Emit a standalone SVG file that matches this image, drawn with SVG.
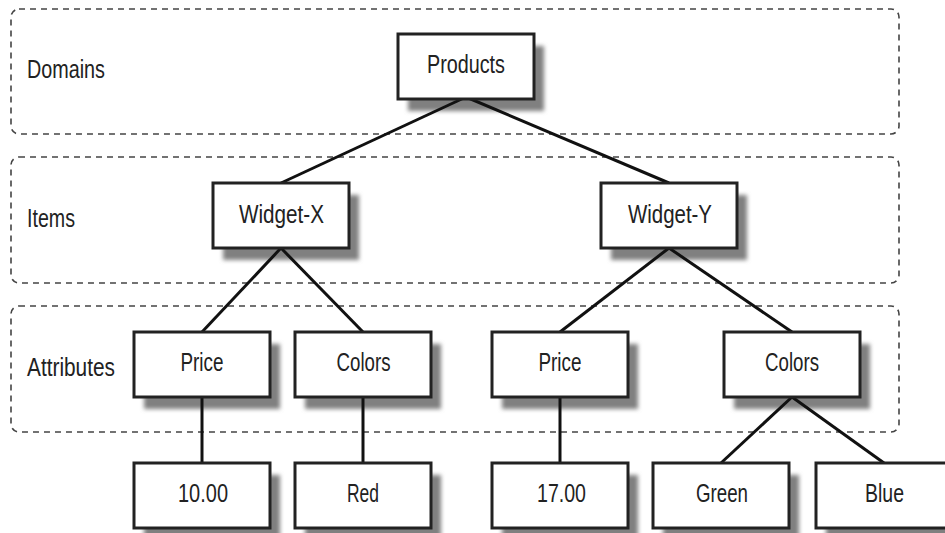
<svg xmlns="http://www.w3.org/2000/svg" xmlns:xlink="http://www.w3.org/1999/xlink" width="945" height="533" viewBox="0 0 945 533">
  <style>
    .band { fill: none; stroke: #444; stroke-width: 1.6; stroke-dasharray: 6 5; }
    .box { fill: #fff; stroke: #222; stroke-width: 3; }
    .shadow { fill: #808080; filter: url(#soft); }
    .link { stroke: #111; stroke-width: 3; fill: none; stroke-linecap: butt; }
    .lbl { font-family: "Liberation Sans", Arial, sans-serif; font-size: 25.5px; fill: #222; text-anchor: middle; }
    .tier { font-family: "Liberation Sans", Arial, sans-serif; font-size: 25.5px; fill: #222; }
  </style>
  <defs>
    <filter id="soft" x="-20%" y="-30%" width="140%" height="160%">
      <feGaussianBlur stdDeviation="2.2"/>
    </filter>
    <rect id="nodebox" width="136" height="65"/>
  </defs>

  <rect width="945" height="533" fill="#fff"/>

  <!-- tier bands -->
  <g id="tiers">
    <rect class="band" x="11" y="9" width="888" height="125" rx="8"/>
    <rect class="band" x="11" y="157" width="888" height="126" rx="8"/>
    <rect class="band" x="11" y="306" width="888" height="126" rx="8"/>
    <text class="tier" x="27" y="78" textLength="78" lengthAdjust="spacingAndGlyphs">Domains</text>
    <text class="tier" x="27" y="227" textLength="48" lengthAdjust="spacingAndGlyphs">Items</text>
    <text class="tier" x="27" y="376" textLength="88" lengthAdjust="spacingAndGlyphs">Attributes</text>
  </g>

  <!-- drop shadows -->
  <g id="shadows">
    <use class="shadow" xlink:href="#nodebox" x="408" y="46"/>
    <use class="shadow" xlink:href="#nodebox" x="223" y="195"/>
    <use class="shadow" xlink:href="#nodebox" x="611" y="195"/>
    <use class="shadow" xlink:href="#nodebox" x="144" y="344"/>
    <use class="shadow" xlink:href="#nodebox" x="305" y="344"/>
    <use class="shadow" xlink:href="#nodebox" x="502" y="344"/>
    <use class="shadow" xlink:href="#nodebox" x="734" y="344"/>
    <use class="shadow" xlink:href="#nodebox" x="144" y="475"/>
    <use class="shadow" xlink:href="#nodebox" x="305" y="475"/>
    <use class="shadow" xlink:href="#nodebox" x="502" y="475"/>
    <use class="shadow" xlink:href="#nodebox" x="663" y="475"/>
    <use class="shadow" xlink:href="#nodebox" x="826" y="475"/>
  </g>

  <!-- connectors -->
  <g id="connectors">
    <line class="link" x1="466" y1="97" x2="281" y2="183"/>
    <line class="link" x1="466" y1="97" x2="669" y2="183"/>
    <line class="link" x1="281" y1="248" x2="202" y2="332"/>
    <line class="link" x1="281" y1="248" x2="363" y2="332"/>
    <line class="link" x1="669" y1="248" x2="560" y2="332"/>
    <line class="link" x1="669" y1="248" x2="792" y2="332"/>
    <line class="link" x1="202" y1="397" x2="202" y2="463"/>
    <line class="link" x1="363" y1="397" x2="363" y2="463"/>
    <line class="link" x1="560" y1="397" x2="560" y2="463"/>
    <line class="link" x1="792" y1="397" x2="721" y2="463"/>
    <line class="link" x1="792" y1="397" x2="884" y2="463"/>
  </g>

  <!-- nodes -->
  <g id="products">
    <use class="box" xlink:href="#nodebox" x="398" y="34"/>
    <text class="lbl" x="466" y="73" textLength="78" lengthAdjust="spacingAndGlyphs">Products</text>
  </g>
  <g id="widget-x">
    <use class="box" xlink:href="#nodebox" x="213" y="183"/>
    <text class="lbl" x="281.5" y="223" textLength="85" lengthAdjust="spacingAndGlyphs">Widget-X</text>
  </g>
  <g id="widget-y">
    <use class="box" xlink:href="#nodebox" x="601" y="183"/>
    <text class="lbl" x="670" y="223" textLength="84" lengthAdjust="spacingAndGlyphs">Widget-Y</text>
  </g>
  <g id="price-x">
    <use class="box" xlink:href="#nodebox" x="134" y="332"/>
    <text class="lbl" x="202" y="371" textLength="43" lengthAdjust="spacingAndGlyphs">Price</text>
  </g>
  <g id="colors-x">
    <use class="box" xlink:href="#nodebox" x="295" y="332"/>
    <text class="lbl" x="363.5" y="371" textLength="54" lengthAdjust="spacingAndGlyphs">Colors</text>
  </g>
  <g id="price-y">
    <use class="box" xlink:href="#nodebox" x="492" y="332"/>
    <text class="lbl" x="560" y="371" textLength="43" lengthAdjust="spacingAndGlyphs">Price</text>
  </g>
  <g id="colors-y">
    <use class="box" xlink:href="#nodebox" x="724" y="332"/>
    <text class="lbl" x="792" y="371" textLength="54" lengthAdjust="spacingAndGlyphs">Colors</text>
  </g>
  <g id="value-10">
    <use class="box" xlink:href="#nodebox" x="134" y="463"/>
    <text class="lbl" x="203" y="502" textLength="50" lengthAdjust="spacingAndGlyphs">10.00</text>
  </g>
  <g id="value-red">
    <use class="box" xlink:href="#nodebox" x="295" y="463"/>
    <text class="lbl" x="363" y="502" textLength="32" lengthAdjust="spacingAndGlyphs">Red</text>
  </g>
  <g id="value-17">
    <use class="box" xlink:href="#nodebox" x="492" y="463"/>
    <text class="lbl" x="561.5" y="502" textLength="49" lengthAdjust="spacingAndGlyphs">17.00</text>
  </g>
  <g id="value-green">
    <use class="box" xlink:href="#nodebox" x="653" y="463"/>
    <text class="lbl" x="722" y="502" textLength="52" lengthAdjust="spacingAndGlyphs">Green</text>
  </g>
  <g id="value-blue">
    <use class="box" xlink:href="#nodebox" x="816" y="463"/>
    <text class="lbl" x="884.5" y="502" textLength="39" lengthAdjust="spacingAndGlyphs">Blue</text>
  </g>
</svg>
